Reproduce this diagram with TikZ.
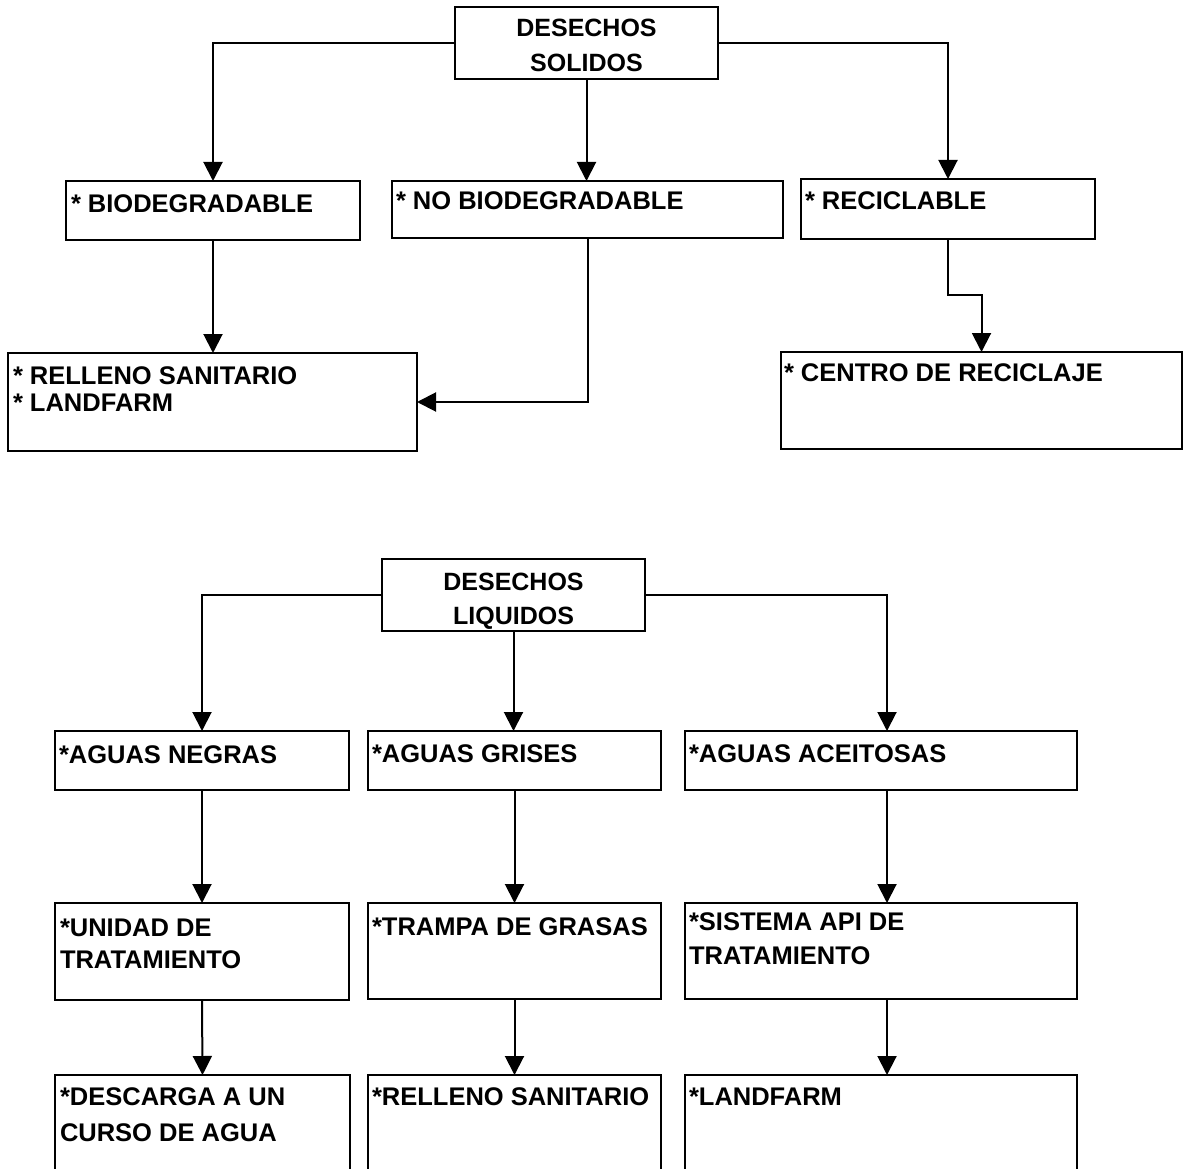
\documentclass[tikz,border=0pt]{standalone}
\usepackage{fontspec}
\setmainfont{Liberation Sans}
\usetikzlibrary{arrows.meta}

% label font: bold sans, 25.5pt
\newcommand\lbfont{\fontsize{25.5}{30}\selectfont\bfseries}
% two left-aligned lines, baseline of the first line as reference
\newcommand\twoleft[3]{\parbox[t]{12cm}{\fontsize{25.5}{#1}\selectfont\bfseries\raggedright #2\par #3}}
% two centred lines
\newcommand\twocent[3]{\parbox[t]{10cm}{\fontsize{25}{#1}\selectfont\bfseries\centering #2\par #3}}

\tikzset{
  box/.style={draw, line width=2pt, anchor=north west, inner sep=0pt, outer sep=0pt},
  lbl/.style={anchor=base west, inner sep=0pt, outer sep=0pt, font=\lbfont},
  ttl/.style={anchor=base, inner sep=0pt, outer sep=0pt},
  arr/.style={line width=2pt, -{Triangle[length=19pt,width=19pt]}},
}

\begin{document}
\begin{tikzpicture}[x=1pt,y=-1pt]
\useasboundingbox (0,0) rectangle (1188,1169);
\fill[white] (0,0) rectangle (1188,1169);
\clip (0,0) rectangle (1188,1169);

% ---------- solid waste ----------
\node[box, minimum width=263pt, minimum height=72pt] (sol) at (455,7) {};
\node[ttl] (sol-t) at (586.5,36.7) {\twocent{35pt}{DESECHOS}{SOLIDOS}};

\node[box, minimum width=294pt, minimum height=59pt] (bio) at (66,181) {};
\node[lbl] (bio-t) at (71,212) {* BIODEGRADABLE};

\node[box, minimum width=391pt, minimum height=57pt] (nobio) at (392,181) {};
\node[lbl] (nobio-t) at (396,210) {* NO BIODEGRADABLE};

\node[box, minimum width=294pt, minimum height=60pt] (recic) at (801,179) {};
\node[lbl] (recic-t) at (805,209) {* RECICLABLE};

\node[box, minimum width=409pt, minimum height=98pt] (rell) at (8,353) {};
\node[lbl] (rell-t) at (13,384) {\twoleft{27pt}{* RELLENO SANITARIO}{* LANDFARM}};

\node[box, minimum width=401pt, minimum height=97pt] (centro) at (781,352) {};
\node[lbl] (centro-t) at (784,381.7) {* CENTRO DE RECICLAJE};

\draw[arr] (sol.west) -| (bio.north);
\draw[arr] (sol.east) -| (recic.north);
\draw[arr] (sol.south) -- (sol.south |- nobio.north);
\draw[arr] (bio.south) -- (bio.south |- rell.north);
\draw[arr] (nobio.south) |- (rell.east);
\draw[arr] (recic.south) -- ++(0,56) -| (centro.north);

% ---------- liquid waste ----------
\node[box, minimum width=263pt, minimum height=72pt] (liq) at (382,559) {};
\node[ttl] (liq-t) at (513.5,590) {\twocent{34pt}{DESECHOS}{LIQUIDOS}};

\node[box, minimum width=294pt, minimum height=59pt] (negras) at (55,731) {};
\node[lbl] (negras-t) at (59,763) {*AGUAS NEGRAS};

\node[box, minimum width=293pt, minimum height=59pt] (grises) at (368,731) {};
\node[lbl] (grises-t) at (372,762) {*AGUAS GRISES};

\node[box, minimum width=392pt, minimum height=59pt] (aceit) at (685,731) {};
\node[lbl] (aceit-t) at (689,762) {*AGUAS ACEITOSAS};

\node[box, minimum width=294pt, minimum height=97pt] (unidad) at (55,903) {};
\node[lbl] (unidad-t) at (60,936) {\twoleft{32pt}{*UNIDAD DE}{TRATAMIENTO}};

\node[box, minimum width=293pt, minimum height=96pt] (trampa) at (368,903) {};
\node[lbl] (trampa-t) at (372,935) {*TRAMPA DE GRASAS};

\node[box, minimum width=392pt, minimum height=96pt] (api) at (685,903) {};
\node[lbl] (api-t) at (689,930) {\twoleft{34pt}{*SISTEMA API DE}{TRATAMIENTO}};

\node[box, minimum width=295pt, minimum height=110pt] (descarga) at (55,1075) {};
\node[lbl] (descarga-t) at (60,1105) {\twoleft{36pt}{*DESCARGA A UN}{CURSO DE AGUA}};

\node[box, minimum width=293pt, minimum height=110pt] (rell2) at (368,1075) {};
\node[lbl] (rell2-t) at (372,1105) {*RELLENO SANITARIO};

\node[box, minimum width=392pt, minimum height=110pt] (landf) at (685,1075) {};
\node[lbl] (landf-t) at (689,1105) {*LANDFARM};

\draw[arr] (liq.west) -| (negras.north);
\draw[arr] (liq.east) -| ([xshift=6pt]aceit.north);
\draw[arr] (liq.south) -- (liq.south |- grises.north);

\draw[arr] (negras.south) -- (unidad.north);
\draw[arr] (grises.south) -- (trampa.north);
\draw[arr] ([xshift=6pt]aceit.south) -- ([xshift=6pt]api.north);

\draw[arr] (unidad.south) -- (descarga.north);
\draw[arr] (trampa.south) -- (rell2.north);
\draw[arr] ([xshift=6pt]api.south) -- ([xshift=6pt]landf.north);
\end{tikzpicture}
\end{document}
